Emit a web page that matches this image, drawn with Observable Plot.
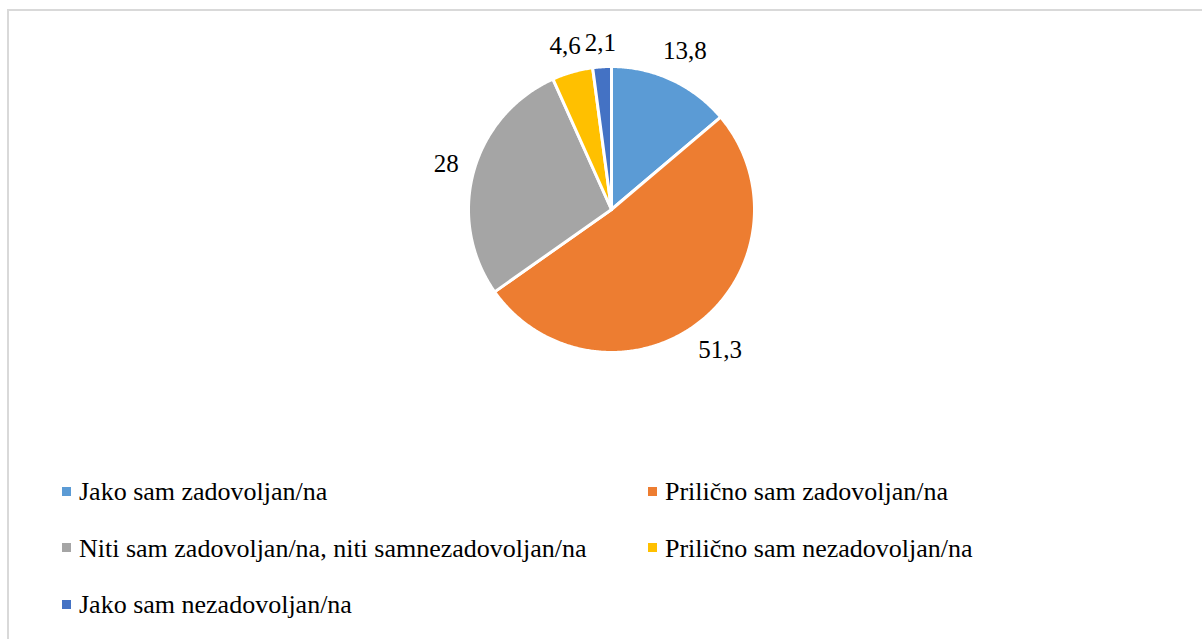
<!DOCTYPE html>
<html><head><meta charset="utf-8">
<script src="https://cdn.jsdelivr.net/npm/d3@7"></script>
<script src="https://cdn.jsdelivr.net/npm/@observablehq/plot@0.6"></script>
<style>
html,body{margin:0;padding:0;background:#fff;overflow:hidden;width:1202px;height:639px;}
#frame{position:absolute;left:7px;top:9px;width:1300px;height:700px;border:2px solid #d9d9d9;box-sizing:border-box;}
#chart{position:absolute;left:0;top:0;}
#legend{position:absolute;left:62px;top:464px;display:grid;grid-template-columns:586px auto;grid-auto-rows:56.5px;font-family:"Liberation Serif","Times New Roman",serif;font-size:26px;color:#000;}
.item{display:flex;align-items:center;white-space:nowrap;}
.sw{width:9px;height:9px;margin-right:8px;flex:none;position:relative;top:-1px;}
</style></head><body>
<div id="frame"></div>
<div id="chart"></div>
<div id="legend"></div>
<script>
// ---- data ----
const categories = [
  "Jako sam zadovoljan/na",
  "Prilično sam zadovoljan/na",
  "Niti sam zadovoljan/na, niti samnezadovoljan/na",
  "Prilično sam nezadovoljan/na",
  "Jako sam nezadovoljan/na"
];
const values = [13.8, 51.3, 28, 4.6, 2.1];
const valueLabels = ["13,8", "51,3", "28", "4,6", "2,1"];
const colors = ["#5B9BD5", "#ED7D31", "#A5A5A5", "#FFC000", "#4472C4"];

// ---- layout ----
const W = 1202, H = 460, cx = 611, cy = 209, R = 143;
const fontSize = 25;

const data = categories.map((c, i) => ({cat: c, value: values[i], label: valueLabels[i]}));
const arcs = d3.pie().sort(null).value(d => d.value).startAngle(0).endAngle(2 * Math.PI)(data);

const pts = [];
for (const a of arcs) {
  const c = a.data.cat;
  pts.push({cat: c, x: 0, y: 0});
  const n = Math.max(2, Math.ceil((a.endAngle - a.startAngle) / (Math.PI / 360)));
  for (let k = 0; k <= n; k++) {
    const t = a.startAngle + (a.endAngle - a.startAngle) * k / n;
    pts.push({cat: c, x: Math.sin(t), y: Math.cos(t)});
  }
  pts.push({cat: c, x: 0, y: 0});
}

const labelData = arcs.map(a => {
  const m = (a.startAngle + a.endAngle) / 2;
  const s = Math.sin(m), co = Math.cos(m);
  const txt = a.data.label;
  const hw = [...txt].reduce((w, ch) => w + (ch === "," ? 0.25 : 0.5), 0) * fontSize / 2;
  const hh = 9;
  const dist = (R + 14 + Math.abs(s) * hw + Math.abs(co) * hh) / R;
  return {x: s * dist, y: co * dist, text: txt};
});

const chart = Plot.plot({
  width: W, height: H, margin: 0,
  x: {domain: [-1, 1], range: [cx - R, cx + R], axis: null},
  y: {domain: [-1, 1], range: [cy + R, cy - R], axis: null},
  color: {domain: categories, range: colors},
  style: {background: "transparent", fontFamily: "'Liberation Serif','Times New Roman',serif"},
  marks: [
    Plot.line(pts, {x: "x", y: "y", z: "cat", fill: "cat", stroke: "white", strokeWidth: 3, strokeLinejoin: "round", curve: "linear"}),
    Plot.text(labelData, {x: "x", y: "y", text: "text", fontSize: fontSize, fill: "black", fontFamily: "'Liberation Serif','Times New Roman',serif", textAnchor: "middle", lineAnchor: "middle"})
  ]
});
document.getElementById("chart").appendChild(chart);

const legend = document.getElementById("legend");
categories.forEach((c, i) => {
  const it = document.createElement("div");
  it.className = "item";
  const sw = document.createElement("span");
  sw.className = "sw";
  sw.style.background = colors[i];
  const tx = document.createElement("span");
  tx.textContent = c;
  it.appendChild(sw); it.appendChild(tx);
  legend.appendChild(it);
});
</script>
</body></html>
